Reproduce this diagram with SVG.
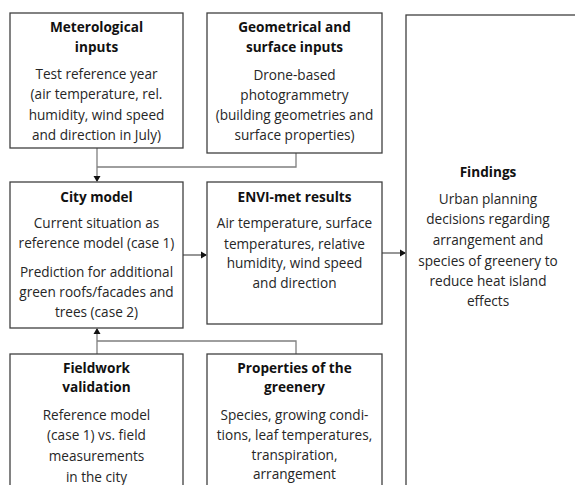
<svg xmlns="http://www.w3.org/2000/svg" width="575" height="485" viewBox="0 0 575 485">
<style>
.box{fill:#fff;stroke:#404040;stroke-width:1.3}
.t{font-family:"Open Sans","Liberation Sans",sans-serif;font-size:13.6px;fill:#262626;text-anchor:middle}
.b{font-weight:bold;fill:#111}
.c{fill:none;stroke:#7f7f7f;stroke-width:1.3}
.a{fill:none;stroke:#404040;stroke-width:1.1}
</style>
<defs>
<marker id="arr" viewBox="0 0 10 10" refX="10" refY="5" markerWidth="7" markerHeight="7" markerUnits="userSpaceOnUse" orient="auto">
<path d="M0,0 L10,5 L0,10 z" fill="#111"/>
</marker>
</defs>
<rect width="575" height="485" fill="#fff"/>
<g id="connectors">
<path class="c" d="M97,148 V181"/>
<path class="c" d="M97,167 H296 V153"/>
<path class="c" d="M97,354 V329"/>
<path class="c" d="M97,341 H296 V354"/>
<path class="a" d="M183,255 H206"/>
<path class="a" d="M382,253 H405"/>
<path d="M97,182 l-3.5,-6 h7 z" fill="#111"/>
<path d="M97,328 l-3.5,6 h7 z" fill="#111"/>
<path d="M207,255 l-6,-3.5 v7 z" fill="#111"/>
<path d="M406,253 l-6,-3.5 v7 z" fill="#111"/>
</g>
<g id="meteo">
<rect class="box" x="10" y="13" width="173" height="135"/>
<text class="t b" x="96.5" y="32">Meterological</text>
<text class="t b" x="96.5" y="52">inputs</text>
<text class="t" x="96.5" y="79">Test reference year</text>
<text class="t" x="96.5" y="99">(air temperature, rel.</text>
<text class="t" x="96.5" y="120">humidity, wind speed</text>
<text class="t" x="96.5" y="140">and direction in July)</text>
</g>
<g id="geom">
<rect class="box" x="207" y="13" width="175" height="140"/>
<text class="t b" x="294.5" y="32">Geometrical and</text>
<text class="t b" x="294.5" y="52">surface  inputs</text>
<text class="t" x="294.5" y="80">Drone-based</text>
<text class="t" x="294.5" y="100">photogrammetry</text>
<text class="t" x="294.5" y="120">(building geometries and</text>
<text class="t" x="294.5" y="140">surface properties)</text>
</g>
<g id="findings">
<rect class="box" x="406" y="15" width="180" height="480"/>
<text class="t b" x="488" y="177">Findings</text>
<text class="t" x="488" y="204">Urban planning</text>
<text class="t" x="488" y="224">decisions regarding</text>
<text class="t" x="488" y="245">arrangement and</text>
<text class="t" x="488" y="266">species of greenery to</text>
<text class="t" x="488" y="286">reduce heat island</text>
<text class="t" x="488" y="306">effects</text>
</g>
<g id="city">
<rect class="box" x="10" y="182" width="173" height="146"/>
<text class="t b" x="96.5" y="202">City model</text>
<text class="t" x="96.5" y="228">Current situation as</text>
<text class="t" x="96.5" y="248">reference model (case 1)</text>
<text class="t" x="96.5" y="277">Prediction for additional</text>
<text class="t" x="96.5" y="297">green roofs/facades and</text>
<text class="t" x="96.5" y="317">trees (case 2)</text>
</g>
<g id="envi">
<rect class="box" x="207" y="182" width="175" height="142"/>
<text class="t b" x="294.5" y="202">ENVI-met results</text>
<text class="t" x="294.5" y="228">Air temperature, surface</text>
<text class="t" x="294.5" y="249">temperatures, relative</text>
<text class="t" x="294.5" y="268">humidity, wind speed</text>
<text class="t" x="294.5" y="288">and direction</text>
</g>
<g id="fieldwork">
<rect class="box" x="10" y="354" width="173" height="140"/>
<text class="t b" x="96.5" y="373">Fieldwork</text>
<text class="t b" x="96.5" y="392">validation</text>
<text class="t" x="96.5" y="420">Reference model</text>
<text class="t" x="96.5" y="440">(case 1) vs. field</text>
<text class="t" x="96.5" y="461">measurements</text>
<text class="t" x="96.5" y="482">in the city</text>
</g>
<g id="greenery">
<rect class="box" x="207" y="354" width="175" height="140"/>
<text class="t b" x="294.5" y="373">Properties of the</text>
<text class="t b" x="294.5" y="392">greenery</text>
<text class="t" x="294.5" y="420">Species, growing condi-</text>
<text class="t" x="294.5" y="440">tions, leaf temperatures,</text>
<text class="t" x="294.5" y="460">transpiration,</text>
<text class="t" x="294.5" y="479">arrangement</text>
</g>
</svg>
